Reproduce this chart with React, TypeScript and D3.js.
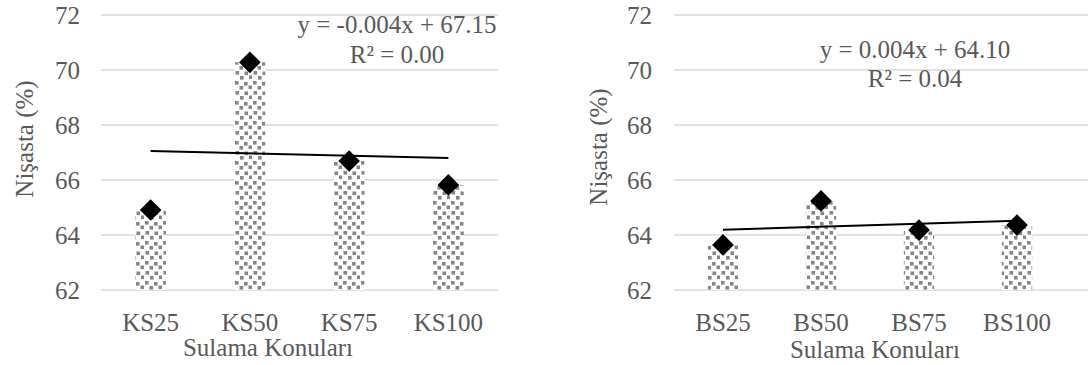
import React from "react";
import * as d3 from "d3";

// Left panel (KS) data
const ksCategories = ["KS25", "KS50", "KS75", "KS100"];
const ksValues = [64.91, 70.28, 66.69, 65.82];
const ksEquation = ["y = -0.004x + 67.15", "R² = 0.00"];

// Right panel (BS) data
const bsCategories = ["BS25", "BS50", "BS75", "BS100"];
const bsValues = [63.64, 65.24, 64.18, 64.36];
const bsEquation = ["y = 0.004x + 64.10", "R² = 0.04"];

const yTicks = [62, 64, 66, 68, 70, 72];
const yTitle = "Nişasta (%)";
const xTitle = "Sulama Konuları";

const TEXT = "#595959";
const GRID = "#d9d9d9";
const FONT = "Liberation Serif";

type PanelProps = {
  categories: string[];
  values: number[];
  equation: string[];
  plotLeft: number;
  plotRight: number;
  gridRight: number;
  tickX: number;
  yTitleX: number;
  yTitleY: number;
  xTitleX: number;
  xTitleY: number;
  eqX: number;
  eqY: number[];
};

// Least-squares trend over category index; returns fitted values at first and last category
function fitLine(values: number[]) {
  const n = values.length;
  const xs = values.map((_, i) => i);
  const mx = d3.mean(xs) as number;
  const my = d3.mean(values) as number;
  let num = 0;
  let den = 0;
  xs.forEach((x, i) => {
    num += (x - mx) * (values[i] - my);
    den += (x - mx) * (x - mx);
  });
  const slope = num / den;
  const intercept = my - slope * mx;
  return [intercept, intercept + slope * (n - 1)];
}

const textStyle = { fontFamily: FONT, fontSize: 25, fill: TEXT };

function Panel(p: PanelProps) {
  const y = d3.scaleLinear().domain([62, 72]).range([290, 15]);
  const x = d3.scaleBand<string>().domain(p.categories).range([p.plotLeft, p.plotRight]).padding(0);
  const step = x.step();
  const barW = step * 0.31;
  const center = (c: string) => (x(c) as number) + step / 2;
  const diamond = d3.symbol(d3.symbolSquare, 235)();
  const [t0, t1] = fitLine(p.values);
  const first = p.categories[0];
  const last = p.categories[p.categories.length - 1];

  return (
    <g>
      {yTicks.map((t) => (
        <g key={t}>
          <line x1={p.plotLeft} x2={p.gridRight} y1={y(t)} y2={y(t)} stroke={GRID} strokeWidth={1.5} />
          <text x={p.tickX} y={y(t)} dy="0.34em" textAnchor="end" style={textStyle}>
            {t}
          </text>
        </g>
      ))}
      {p.categories.map((c, i) => (
        <rect
          key={c}
          x={center(c) - barW / 2}
          width={barW}
          y={y(p.values[i])}
          height={y(62) - y(p.values[i])}
          fill="url(#dots)"
        />
      ))}
      <line
        x1={center(first)}
        x2={center(last)}
        y1={y(t0)}
        y2={y(t1)}
        stroke="#000"
        strokeWidth={2}
      />
      {p.categories.map((c, i) => (
        <path
          key={c}
          d={diamond as string}
          transform={`translate(${center(c)},${y(p.values[i])}) rotate(45)`}
          fill="#000"
        />
      ))}
      {p.categories.map((c) => (
        <text key={c} x={center(c)} y={331} textAnchor="middle" style={textStyle}>
          {c}
        </text>
      ))}
      <text x={p.xTitleX} y={p.xTitleY} textAnchor="middle" style={textStyle}>
        {xTitle}
      </text>
      <text
        transform={`translate(${p.yTitleX},${p.yTitleY}) rotate(-90)`}
        textAnchor="middle"
        dy="0.35em"
        style={textStyle}
      >
        {yTitle}
      </text>
      {p.equation.map((line, i) => (
        <text key={i} x={p.eqX} y={p.eqY[i]} textAnchor="middle" style={textStyle}>
          {line}
        </text>
      ))}
    </g>
  );
}

export default function App() {
  // staggered grey squares of the bar fill
  const dotSquares = [
    [1, 1], [10, 2], [5.5, 6], [14.5, 5.5],
    [1.5, 11], [10.5, 11.5], [6, 16], [15, 15.5],
  ];
  return (
    <svg width={1088} height={365} style={{ position: "absolute", left: 0, top: 0, background: "#fff" }}>
      <defs>
        <pattern id="dots" width={18} height={20} patternUnits="userSpaceOnUse">
          <rect width={18} height={20} fill="#fff" />
          {dotSquares.map(([dx, dy], i) => (
            <rect key={i} x={dx} y={dy} width={3.6} height={3.6} fill="#858585" />
          ))}
        </pattern>
      </defs>
      <Panel
        categories={ksCategories}
        values={ksValues}
        equation={ksEquation}
        plotLeft={101}
        plotRight={498}
        gridRight={498}
        tickX={80}
        yTitleX={24}
        yTitleY={139}
        xTitleX={268}
        xTitleY={356}
        eqX={397}
        eqY={[33, 63]}
      />
      <Panel
        categories={bsCategories}
        values={bsValues}
        equation={bsEquation}
        plotLeft={674}
        plotRight={1066}
        gridRight={1088}
        tickX={652}
        yTitleX={598}
        yTitleY={147}
        xTitleX={875}
        xTitleY={358}
        eqX={915}
        eqY={[58, 87]}
      />
    </svg>
  );
}
